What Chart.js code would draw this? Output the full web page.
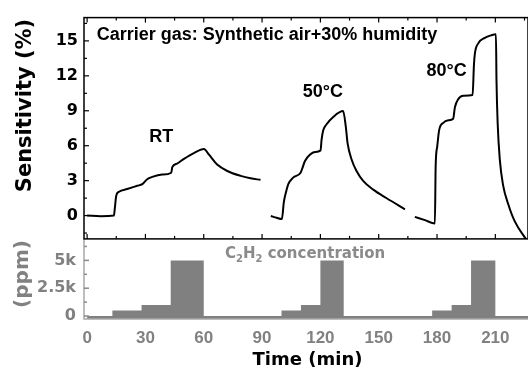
<!DOCTYPE html>
<html><head><meta charset="utf-8">
<script src="https://cdn.jsdelivr.net/npm/chart.js@4.4.1/dist/chart.umd.min.js"></script>
<style>html,body{margin:0;padding:0;background:#fff;}canvas{display:block;}</style>
</head><body>
<canvas id="c" width="528" height="372"></canvas>
<script>
// ---- data ----
const rtTime = [0, 7, 13.8, 14.3, 15.0, 16.4, 20.6, 25.8, 28.4, 30.9, 33.5, 38.6, 43.3, 43.8, 46.3, 49.8, 54.9, 60.1, 62.7, 66.9, 72.1, 79.0, 84.1, 89.2];
const rtSens = [0.0, -0.05, 0.0, 0.7, 1.72, 2.05, 2.28, 2.56, 2.7, 3.12, 3.32, 3.52, 3.68, 4.16, 4.47, 4.87, 5.37, 5.71, 5.23, 4.38, 3.83, 3.41, 3.2, 3.07];

const t50Time = [94.5, 97.5, 100.2, 101.2, 102.3, 103.5, 106.0, 109.8, 110.8, 112.0, 114.6, 117.2, 120.1, 120.6, 121.5, 123.2, 126.6, 131.7, 133.1, 134.0, 136.1, 138.6, 142.0, 147.2, 154.1, 163.5];
const t50Sens = [-0.03, -0.19, -0.3, 1.16, 2.0, 2.7, 3.26, 3.68, 4.1, 4.67, 5.23, 5.46, 5.6, 6.5, 7.34, 7.84, 8.47, 8.97, 7.6, 6.2, 4.8, 3.83, 2.98, 2.23, 1.49, 0.54];

const t80Time = [168.6, 173.8, 178.9, 179.3, 180.1, 181.1, 183.2, 185.8, 188.3, 189.2, 190.9, 193.5, 198.3, 199.0, 199.5, 201.2, 204.6, 208.1, 210.3, 210.6, 211.2, 212.3, 214.0, 216.6, 220.0, 226.1];
const t80Sens = [-0.11, -0.39, -0.67, 4.25, 5.93, 7.34, 7.96, 8.18, 8.32, 9.3, 10.0, 10.29, 10.35, 12.96, 13.94, 14.79, 15.26, 15.49, 15.57, 11.55, 7.9, 4.8, 2.6, 1.0, -0.5, -2.1];

const concTime = [0, 13, 28, 43, 60, 100, 110, 120, 132, 177.5, 187.5, 197.5, 210, 226.8];
const concPpm  = [0, 500, 1000, 5000, 0, 500, 1000, 5000, 0, 500, 1000, 5000, 0, 0];

const sensTicks = [0, 3, 6, 9, 12, 15];
const concTicks = [0, 2500, 5000];
const concTickLabels = ['0', '2.5k', '5k'];
const timeTicks = [0, 30, 60, 90, 120, 150, 180, 210];

const curveNames = ['RT', '50°C', '80°C'];
const headerText = 'Carrier gas: Synthetic air+30% humidity';
const xTitle = 'Time (min)';
const yTitle = 'Sensitivity (%)';
const y2Title = '(ppm)';

// ---- helpers ----
const pts = (xs, ys) => xs.map((x, i) => ({x: x, y: ys[i]}));
const GRAY = '#818181';

const framePlugin = {
  id: 'framePlugin',
  beforeDatasetDraw(chart, args) {
    const ys = chart.scales[args.meta.yAxisID];
    const a = chart.chartArea;
    const ctx = chart.ctx;
    ctx.save();
    ctx.beginPath();
    ctx.rect(a.left, ys.top, a.right - a.left, ys.bottom - ys.top);
    ctx.clip();
  },
  afterDatasetDraw(chart) { chart.ctx.restore(); },
  afterDraw(chart) {
    const ctx = chart.ctx;
    const a = chart.chartArea;
    const x = chart.scales.x, y = chart.scales.y, y2 = chart.scales.y2;
    ctx.save();
    // bottom panel frame (gray)
    ctx.strokeStyle = '#a8a8a8';
    ctx.lineWidth = 1.5;
    ctx.beginPath();
    ctx.moveTo(a.left, y2.top); ctx.lineTo(a.left, y2.bottom); ctx.lineTo(a.right, y2.bottom);
    ctx.stroke();
    ctx.strokeStyle = '#8a8a8a';
    for (let v = 0; v <= 6250; v += 1250) {
      const p = y2.getPixelForValue(v);
      const L = (v % 2500 === 0) ? 5 : 3;
      ctx.beginPath(); ctx.moveTo(a.left, p); ctx.lineTo(a.left + L, p); ctx.stroke();
    }
    // top panel frame (black)
    ctx.strokeStyle = '#000';
    ctx.lineWidth = 1.5;
    ctx.strokeRect(a.left, y.top, a.right - a.left, y.bottom - y.top);
    ctx.lineWidth = 1.2;
    for (let v = -1.5; v <= 16.6; v += 1.5) {
      const p = y.getPixelForValue(v);
      const L = (Math.abs(v % 3) < 0.01) ? 5 : 3;
      ctx.beginPath(); ctx.moveTo(a.left, p); ctx.lineTo(a.left + L, p); ctx.stroke();
    }
    for (let t = 0; t <= 225; t += 15) {
      const p = x.getPixelForValue(t);
      const L = (t % 30 === 0) ? 5 : 3;
      ctx.beginPath(); ctx.moveTo(p, y.bottom); ctx.lineTo(p, y.bottom - L); ctx.stroke();
      ctx.beginPath(); ctx.moveTo(p, y.top); ctx.lineTo(p, y.top + L); ctx.stroke();
    }
    // texts
    ctx.fillStyle = '#000';
    ctx.textAlign = 'left';
    ctx.textBaseline = 'alphabetic';
    ctx.font = 'bold 18px "Liberation Sans"';
    ctx.fillText(headerText, x.getPixelForValue(4.9), y.getPixelForValue(15.07));
    ctx.fillText(curveNames[0], x.getPixelForValue(32.0), y.getPixelForValue(6.34));
    ctx.fillText(curveNames[1], x.getPixelForValue(110.9), y.getPixelForValue(10.15));
    ctx.fillText(curveNames[2], x.getPixelForValue(174.6), y.getPixelForValue(11.97));

    // C2H2 concentration
    ctx.fillStyle = '#8a8a8a';
    let cx = x.getPixelForValue(70.9);
    const by = y2.getPixelForValue(5247);
    const big = 'bold 15px "DejaVu Sans"', small = 'bold 10px "DejaVu Sans"';
    const parts = [['C', big, 0], ['2', small, 4], ['H', big, 0], ['2', small, 4], [' concentration', big, 0]];
    for (const [s, f, dy] of parts) {
      ctx.font = f;
      ctx.fillText(s, cx, by + dy);
      cx += ctx.measureText(s).width;
    }

    // axis titles
    ctx.textAlign = 'center';
    ctx.textBaseline = 'middle';
    ctx.fillStyle = '#000';
    ctx.font = 'bold 18px "DejaVu Sans"';
    ctx.fillText(xTitle, 307.5, 360.5);
    ctx.save();
    ctx.translate(26, 105.5);
    ctx.rotate(-Math.PI / 2);
    ctx.font = 'bold 21px "DejaVu Sans"';
    ctx.fillText(yTitle, 0, 0);
    ctx.restore();
    ctx.save();
    ctx.translate(23, 274);
    ctx.rotate(-Math.PI / 2);
    ctx.fillStyle = GRAY;
    ctx.font = 'bold 20px "DejaVu Sans"';
    ctx.fillText(y2Title, 0, 0);
    ctx.restore();
    ctx.restore();
  }
};

const lineStyle = {
  type: 'line', yAxisID: 'y', xAxisID: 'x',
  borderColor: '#000', borderWidth: 2, pointRadius: 0, fill: false,
  cubicInterpolationMode: 'monotone'
};

new Chart(document.getElementById('c'), {
  data: {
    datasets: [
      Object.assign({label: 'RT', data: pts(rtTime, rtSens)}, lineStyle),
      Object.assign({label: '50°C', data: pts(t50Time, t50Sens)}, lineStyle),
      Object.assign({label: '80°C', data: pts(t80Time, t80Sens)}, lineStyle),
      {
        type: 'line', label: 'C2H2', yAxisID: 'y2', xAxisID: 'x',
        data: pts(concTime, concPpm), stepped: true,
        borderColor: 'rgba(0,0,0,0)', borderWidth: 0, pointRadius: 0,
        backgroundColor: '#808080', fill: 'start'
      }
    ]
  },
  options: {
    responsive: false,
    animation: false,
    devicePixelRatio: 1,
    layout: {padding: {top: 12, left: 0, right: 0, bottom: 0}},
    plugins: {legend: {display: false}, tooltip: {enabled: false}},
    scales: {
      x: {
        type: 'linear', position: 'bottom', min: -1.6, max: 226.8,
        grid: {display: false, drawTicks: false}, border: {display: false},
        afterBuildTicks: s => { s.ticks = timeTicks.map(v => ({value: v})); },
        afterFit: s => { s.height = 53; },
        ticks: {padding: 9, color: GRAY, maxRotation: 0, autoSkip: false,
                font: {family: 'Liberation Sans', weight: 'bold', size: 17}}
      },
      y: {
        type: 'linear', position: 'left', stack: 'v', stackWeight: 225.4, weight: 2,
        min: -2, max: 17,
        grid: {display: false, drawTicks: false}, border: {display: false},
        afterBuildTicks: s => { s.ticks = sensTicks.map(v => ({value: v})); },
        afterFit: s => { s.width = 84; },
        ticks: {padding: 6, color: '#000',
                font: {family: 'DejaVu Sans', weight: 'bold', size: 16}}
      },
      y2: {
        type: 'linear', position: 'left', stack: 'v', stackWeight: 81.6, weight: 1,
        min: -265, max: 6930,
        grid: {display: false, drawTicks: false}, border: {display: false},
        afterBuildTicks: s => { s.ticks = concTicks.map(v => ({value: v})); },
        afterFit: s => { s.width = 84; },
        ticks: {padding: 8, color: GRAY,
                callback: (v) => concTickLabels[concTicks.indexOf(v)],
                font: {family: 'DejaVu Sans', weight: 'bold', size: 16}}
      }
    }
  },
  plugins: [framePlugin]
});
</script>
</body></html>
